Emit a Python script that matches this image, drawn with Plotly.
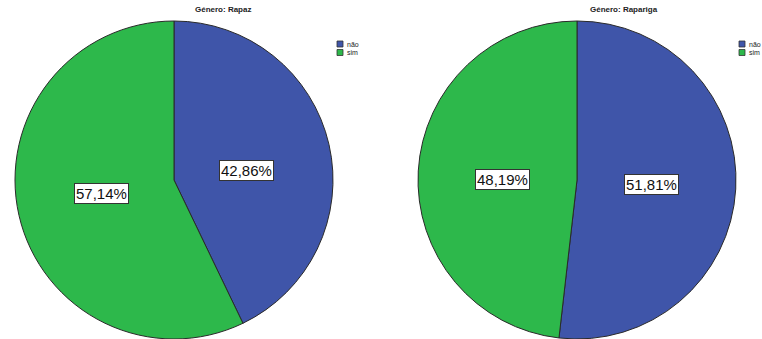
import math
import plotly.graph_objects as go

# Percentages by gender
labels = ["não", "sim"]
rapaz_pct = [42.86, 57.14]
rapariga_pct = [51.81, 48.19]
titles = ["Género: Rapaz", "Género: Rapariga"]

colors = ["#3F55A9", "#2DB84B"]
W, H = 762, 339
FONT = "Arial, Liberation Sans, sans-serif"

# pie domains in pixels (x0, x1, y0_from_top, y1_from_top)
domains_px = [(12, 336, 21, 339), (415, 739, 21, 339)]
# title centres and legend anchors in pixels
title_px = [(223, 10), (624, 10)]
legend_px = [(337, 41), (739, 41)]


def fmt(v):
    return f"{v:.2f}".replace(".", ",") + "%"


fig = go.Figure()
annotations = []
shapes = []
for i, vals in enumerate([rapaz_pct, rapariga_pct]):
    x0, x1, yt, yb = domains_px[i]
    fig.add_trace(go.Pie(
        labels=labels,
        values=vals,
        sort=False,
        direction="clockwise",
        rotation=0,
        marker=dict(colors=colors, line=dict(color="#2a2a2a", width=1)),
        textinfo="none",
        hoverinfo="label+percent",
        domain=dict(x=[x0 / W, x1 / W], y=[1 - yb / H, 1 - yt / H]),
        showlegend=False,
    ))
    # boxed value labels near the mid-angle of each slice
    cx = (x0 + x1) / 2
    cy = (yt + yb) / 2
    r = min(x1 - x0, yb - yt) / 2
    total = sum(vals)
    start = 0.0
    for v in vals:
        frac = v / total
        mid = (start + frac / 2) * 2 * math.pi
        px = cx + 0.47 * r * math.sin(mid)
        py = cy + 2 - 0.7 * 0.47 * r * math.cos(mid)
        annotations.append(dict(
            x=px / W, y=1 - py / H, xref="paper", yref="paper",
            xanchor="center", yanchor="middle",
            text=fmt(v), showarrow=False,
            font=dict(family=FONT, size=15, color="#111"),
            bgcolor="white", bordercolor="#333", borderwidth=1, borderpad=1,
        ))
        start += frac

    # panel title
    tx, ty = title_px[i]
    annotations.append(dict(x=tx / W, y=1 - ty / H, xref="paper", yref="paper",
                            xanchor="center", yanchor="middle",
                            text="<b>" + titles[i] + "</b>", showarrow=False,
                            font=dict(family=FONT, size=8, color="#222")))

    # compact legend: small swatches with labels
    lx, ly = legend_px[i]
    for k, (lab, col) in enumerate(zip(labels, colors)):
        sy = ly + k * 8.5
        shapes.append(dict(type="rect", xref="paper", yref="paper",
                           x0=lx / W, x1=(lx + 6) / W,
                           y0=1 - (sy + 6) / H, y1=1 - sy / H,
                           fillcolor=col, line=dict(color="#333", width=0.8)))
        annotations.append(dict(x=(lx + 8) / W, y=1 - (sy + 3) / H, xref="paper", yref="paper",
                                xanchor="left", yanchor="middle",
                                text=lab, showarrow=False,
                                font=dict(family=FONT, size=7, color="#222")))

fig.update_layout(
    width=W, height=H,
    margin=dict(l=0, r=0, t=0, b=0),
    paper_bgcolor="white", plot_bgcolor="white",
    annotations=annotations,
    shapes=shapes,
    showlegend=False,
)

fig.write_html("out.html")
